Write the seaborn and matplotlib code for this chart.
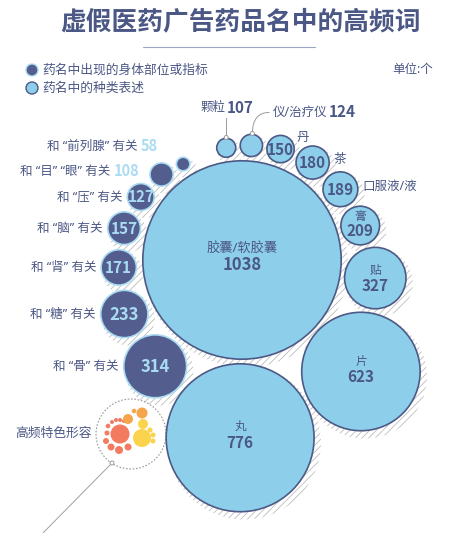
import numpy as np
import pandas as pd
import matplotlib.pyplot as plt
from matplotlib.patches import Circle, PathPatch
from matplotlib.path import Path
import seaborn as sns

### data ###

# 药名中的种类表述 (clockwise from the top)
form_names = ["颗粒", "仪/治疗仪", "丹", "茶", "口服液/液", "膏", "贴", "片", "丸"]
form_values = [107, 124, 150, 180, 189, 209, 327, 623, 776]
main_name = "胶囊/软胶囊"
main_value = 1038

# 药名中出现的身体部位或指标 (clockwise from the bottom)
body_names = ["骨", "糖", "肾", "脑", "压", "目” “眼", "前列腺"]
body_values = [314, 233, 171, 157, 127, 108, 58]

### style ###

DARK = "#535d8e"
LIGHT = "#8dcfea"
EDGE = "#4d5a86"
TXT = "#4b5785"
NUM_LIGHT = "#a9dcf2"
HATCH = "#bdbdbd"

sns.set_theme(style="white")
plt.rcParams['font.family'] = ['Noto Sans', 'Noto Sans CJK SC', 'DejaVu Sans']
plt.rcParams['hatch.linewidth'] = 0.6
plt.rcParams['hatch.color'] = HATCH

fig = plt.figure(figsize=(4.53, 5.33), dpi=100)
ax = fig.add_axes([0, 0, 1, 1])
ax.set_xlim(0, 453)
ax.set_ylim(533, 0)
ax.axis('off')

### layout: pack the small circles round the big one ###

k = 100 / main_value  # radius in px per unit
cx0, cy0 = 242, 260
R0 = main_value * k

items = [(n, v, "form") for n, v in zip(form_names, form_values)] + \
        [(n, v, "body") for n, v in zip(body_names, body_values)]

rows = []
prev = None
for name, v, kind in items:
    r = v * k + (2.0 if kind == "body" else 0.0)
    d0 = R0 + r + (3 if kind == "form" else 5)
    if prev is None:
        a = np.deg2rad(-98)
        x, y = cx0 + d0 * np.cos(a), cy0 + d0 * np.sin(a)
    else:
        px, py, pr, pkind = prev
        d1 = pr + r + (3 if (kind == "form" and pkind == "form") else 4)
        dx, dy = px - cx0, py - cy0
        D = np.hypot(dx, dy)
        aa = (d0 ** 2 - d1 ** 2 + D ** 2) / (2 * D)
        h = np.sqrt(max(d0 ** 2 - aa ** 2, 0))
        ux, uy = dx / D, dy / D
        x = cx0 + aa * ux - h * uy
        y = cy0 + aa * uy + h * ux
    rows.append(dict(name=name, value=v, kind=kind, x=x, y=y, r=r))
    prev = (x, y, r, kind)

rows.append(dict(name=main_name, value=main_value, kind="form", x=cx0, y=cy0, r=R0))
df = pd.DataFrame(rows)
pos = {row.name: row for row in df.itertuples()}

# hatched shadows
for row in df.itertuples():
    ax.add_patch(Circle((row.x + 4, row.y + 5), row.r + 2, fill=False, hatch='/////',
                        edgecolor=HATCH, lw=0, zorder=1))

# bubbles
lw_pt = 1.2
for kind, fc, ec in [("form", LIGHT, EDGE), ("body", DARK, NUM_LIGHT)]:
    sub = df[df.kind == kind]
    s = (2 * (sub.r - 0.8) * 0.72) ** 2
    sns.scatterplot(data=sub, x="x", y="y", s=s.values, color=fc, edgecolor=ec,
                    linewidth=lw_pt, legend=False, ax=ax, zorder=3)
ax.set_xlabel("")
ax.set_ylabel("")

renderer = fig.canvas.get_renderer()


def text_w(t):
    bb = t.get_window_extent(renderer=renderer)
    return bb.width


def num_txt(x, y, s, color, size=11, ha='center'):
    return ax.text(x, y, s, color=color, fontsize=size, fontweight='bold',
                   family=['Noto Sans CJK SC', 'DejaVu Sans'],
                   ha=ha, va='center', zorder=5)


def lab_txt(x, y, s, size=9, ha='center', color=TXT):
    return ax.text(x, y, s, color=color, fontsize=size, ha=ha, va='center', zorder=5)


def body_label(name):
    return "和 “" + name + "” 有关"


# inside labels of the big light circles
for name, dn, dv in [(main_name, -12, 5), ("丸", -11, 5), ("片", -10, 6),
                     ("贴", -8, 8), ("膏", -9, 5)]:
    p = pos[name]
    lab_txt(p.x, p.y + dn, name, size=9.5 if name == main_name else 8.5)
    num_txt(p.x, p.y + dv, str(p.value), TXT, size=12 if name == main_name else 11)

# small light circles: number inside, name outside
for name, dx, dy, ha in [("丹", 8, -12, 'center'), ("茶", 10, -3, 'center'),
                         ("口服液/液", 4, -3, 'left')]:
    p = pos[name]
    num_txt(p.x, p.y + 0.5, str(p.value), TXT, size=11)
    lab_txt(p.x + p.r + dx, p.y + dy, name, size=9, ha=ha)

# 颗粒 / 仪 with leader lines
p = pos["颗粒"]
ax.plot([p.x, p.x], [p.y - p.r, p.y - p.r - 19], color="#9a9a9a", lw=0.7, zorder=4)
ax.add_patch(Circle((p.x, p.y - p.r), 2, fc="white", ec="#9a9a9a", lw=0.7, zorder=6))
t = lab_txt(p.x - 1, p.y - 40, "颗粒", ha='right')
num_txt(p.x + 1, p.y - 40, str(p.value), TXT, size=11, ha='left')

p = pos["仪/治疗仪"]
x0, y0 = p.x + 1, p.y - p.r
curve = Path([(x0, y0), (x0, p.y - 33), (x0 + 17, p.y - 33)],
             [Path.MOVETO, Path.CURVE3, Path.CURVE3])
ax.add_patch(PathPatch(curve, fc='none', ec="#9a9a9a", lw=0.7, zorder=4))
ax.add_patch(Circle((x0, y0), 2, fc="white", ec="#9a9a9a", lw=0.7, zorder=6))
t = lab_txt(x0 + 20, p.y - 33, "仪/治疗仪", ha='left')
num_txt(x0 + 22 + text_w(t), p.y - 33, str(p.value), TXT, size=11, ha='left')

# dark circles
for name in body_names:
    p = pos[name]
    if p.value >= 120:
        num_txt(p.x, p.y + 0.5, str(p.value), NUM_LIGHT,
                size=12 if p.value > 200 else 11)
        lab_txt(p.x - p.r - 4, p.y, body_label(name), size=9, ha='right')

for name, dx, dy in [("目” “眼", -10, -3), ("前列腺", -18, -18)]:
    p = pos[name]
    t = num_txt(p.x - p.r + dx, p.y + dy, str(p.value), NUM_LIGHT, size=10.5, ha='right')
    lab_txt(p.x - p.r + dx - text_w(t) - 3, p.y + dy, body_label(name),
            size=9, ha='right')

### title and legend ###

ax.text(240, 22, "虚假医药广告药品名中的高频词", color=TXT, fontsize=18.5,
        fontweight='bold', family=['Noto Sans CJK SC', 'DejaVu Sans'],
        ha='center', va='center')
ax.plot([143, 315], [47, 47], color="#9aa3c0", lw=0.8)

ax.add_patch(Circle((32, 70), 6, fc=DARK, ec=NUM_LIGHT, lw=1))
ax.add_patch(Circle((32, 88), 6, fc=LIGHT, ec=EDGE, lw=1))
lab_txt(42, 70, "药名中出现的身体部位或指标", size=9.2, ha='left')
lab_txt(42, 88, "药名中的种类表述", size=9.2, ha='left')
lab_txt(433, 70, "单位:个", size=9, ha='right')

### bottom-left inset ###

bx, by = 131, 434
ax.add_patch(Circle((bx, by), 35, fill=False, ls=(0, (1.5, 1.5)), ec="#9a9a9a", lw=0.8))
ax.plot([112, 40], [463, 536], color="#a0a0a0", lw=0.7)
ax.add_patch(Circle((112, 463), 2, fc="white", ec="#9a9a9a", lw=0.7, zorder=6))
lab_txt(15, 433, "高频特色形容", size=9.2, ha='left')

RED, ORANGE, YELLOW = "#f27b60", "#f5a64c", "#fbd34c"
dots = [(120, 434, 9.5, RED), (107, 433, 2.5, RED), (106, 441, 3, RED),
        (111, 447, 3.5, RED), (119, 450, 4, RED), (128, 447, 3.5, RED),
        (108, 426, 2.3, RED), (112, 422, 2, RED), (116, 420, 2, RED),
        (120, 420, 2, RED), (124, 421, 2, RED),
        (128, 419, 5, ORANGE), (142, 413, 5.5, ORANGE), (134, 411, 2.3, ORANGE),
        (143, 424, 5, YELLOW), (142, 438, 9, YELLOW), (150, 430, 2.5, YELLOW),
        (153, 435, 2.5, YELLOW), (153, 441, 2.5, YELLOW)]
for x, y, r, c in dots:
    ax.add_patch(Circle((x, y), r, fc=c, ec='none', zorder=4))

fig.savefig("out.png", dpi=100)
